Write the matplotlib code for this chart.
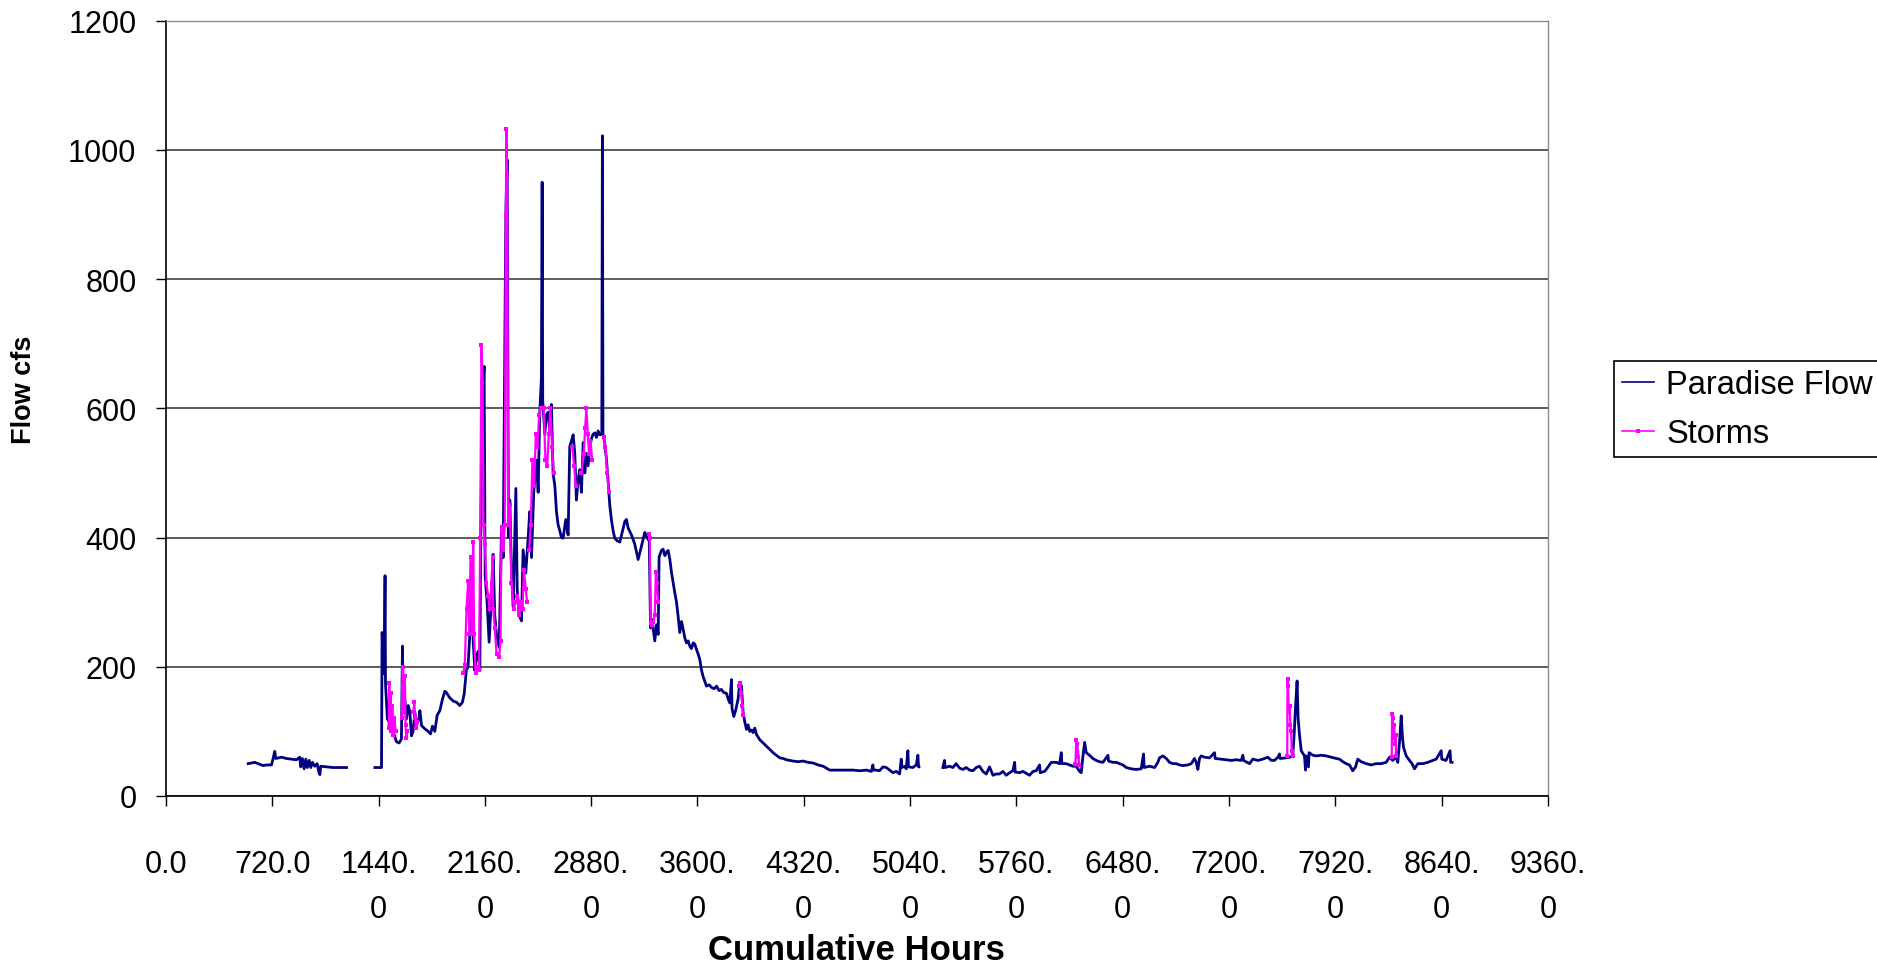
import numpy as np
import matplotlib
matplotlib.use("Agg")
import matplotlib.pyplot as plt
from matplotlib.lines import Line2D

plt.rcParams['font.family'] = ['Liberation Sans', 'DejaVu Sans']

# ---- axis scales -------------------------------------------------------
x_ticks = [0, 720, 1440, 2160, 2880, 3600, 4320, 5040, 5760, 6480, 7200, 7920, 8640, 9360]
x_tick_labels = ["0.0", "720.0", "1440.\n0", "2160.\n0", "2880.\n0", "3600.\n0", "4320.\n0",
                 "5040.\n0", "5760.\n0", "6480.\n0", "7200.\n0", "7920.\n0", "8640.\n0", "9360.\n0"]
y_ticks = [0, 200, 400, 600, 800, 1000, 1200]

# ---- Paradise flow (hour, cfs), split where the record has gaps ---------
paradise_winter = [
    (557, 50), (602, 52), (636, 49), (658, 47), (681, 48), (715, 48), (726, 58), (737, 69),
    (744, 58), (782, 60), (816, 58), (850, 57), (884, 56), (906, 60), (913, 45), (924, 58),
    (936, 42), (947, 57), (958, 44), (970, 55), (981, 44), (992, 52), (1008, 46), (1024, 50),
    (1037, 36), (1043, 33), (1048, 46), (1087, 45), (1132, 44), (1223, 44),
]

paradise_spring = [
    (1415, 44), (1460, 44), (1464, 253), (1471, 230), (1478, 189), (1484, 341), (1487, 175),
    (1493, 150), (1500, 119), (1511, 115), (1527, 105), (1543, 97), (1561, 84), (1579, 82),
    (1595, 88), (1602, 232), (1605, 175), (1618, 150), (1629, 119), (1641, 140), (1652, 130),
    (1663, 93), (1674, 100), (1686, 130), (1697, 110), (1713, 120), (1720, 132), (1731, 109),
    (1753, 104), (1776, 100), (1792, 96), (1805, 108), (1821, 100), (1837, 125), (1855, 132),
    (1873, 150), (1889, 162), (1900, 160), (1922, 152), (1945, 147), (1968, 145), (1990, 140),
    (2008, 145), (2020, 158), (2035, 195), (2046, 200), (2058, 250), (2069, 351), (2081, 240),
    (2092, 194), (2103, 215), (2115, 224), (2126, 194), (2133, 410), (2142, 600), (2155, 665),
    (2162, 339), (2175, 300), (2189, 238), (2205, 310), (2216, 374), (2227, 280), (2239, 250),
    (2257, 230), (2273, 416), (2284, 369), (2295, 689), (2302, 900), (2311, 985), (2320, 400),
    (2329, 458), (2340, 350), (2352, 293), (2370, 476), (2379, 320), (2392, 280), (2408, 271),
    (2419, 381), (2437, 345), (2453, 399), (2464, 440), (2476, 369), (2491, 470), (2510, 520),
    (2521, 470), (2532, 594), (2543, 647), (2548, 950), (2552, 612), (2566, 560), (2577, 590),
    (2589, 594), (2600, 560), (2611, 606), (2622, 499), (2634, 480), (2645, 440), (2656, 420),
    (2668, 410), (2679, 400), (2690, 399), (2708, 428), (2724, 404), (2735, 541), (2747, 550),
    (2758, 559), (2769, 530), (2780, 458), (2792, 490), (2803, 505), (2814, 470), (2826, 547),
    (2837, 500), (2848, 530), (2859, 511), (2871, 540), (2882, 553), (2893, 560), (2905, 562),
    (2916, 555), (2927, 565), (2938, 559), (2952, 560), (2956, 1022), (2960, 560), (2972, 547),
    (2984, 520), (2995, 487), (3006, 450), (3017, 428), (3029, 410), (3040, 399), (3056, 395),
    (3074, 393), (3092, 410), (3108, 425), (3119, 428), (3130, 415), (3153, 404), (3175, 390),
    (3198, 366), (3221, 387), (3243, 408), (3266, 397), (3273, 400), (3282, 260), (3293, 273),
    (3300, 258), (3311, 240), (3322, 265), (3334, 250), (3340, 370), (3356, 380), (3367, 382),
    (3379, 372), (3390, 377), (3401, 380), (3413, 366), (3424, 346), (3435, 330), (3446, 315),
    (3458, 300), (3469, 278), (3480, 253), (3492, 270), (3503, 258), (3514, 245), (3525, 237),
    (3537, 240), (3548, 232), (3559, 228), (3571, 237), (3582, 235), (3593, 227), (3604, 220),
    (3616, 211), (3627, 195), (3638, 185), (3649, 178), (3661, 170), (3679, 172), (3695, 168),
    (3713, 166), (3729, 170), (3747, 163), (3762, 165), (3778, 160), (3796, 159), (3808, 150),
    (3819, 144), (3830, 180), (3834, 135), (3846, 123), (3859, 133), (3875, 150), (3886, 175),
    (3898, 170), (3909, 130), (3920, 115), (3932, 103), (3943, 110), (3954, 100), (3966, 102),
    (3977, 98), (3988, 105), (4000, 95), (4022, 87), (4045, 82), (4067, 77), (4090, 72),
    (4112, 67), (4135, 63), (4157, 59), (4180, 58), (4202, 56), (4225, 55), (4248, 54),
    (4282, 53), (4315, 54), (4349, 52), (4383, 51), (4417, 48), (4451, 46), (4473, 43),
    (4496, 40), (4654, 40), (4699, 39), (4744, 40), (4778, 38), (4788, 48), (4792, 40),
    (4811, 40), (4833, 39), (4856, 45), (4879, 44), (4901, 40), (4924, 36), (4946, 38),
    (4969, 34), (4980, 57), (4984, 44), (5003, 46), (5014, 42), (5025, 70), (5029, 45),
    (5059, 44), (5082, 48), (5093, 63), (5097, 45), (5100, 45),
]

paradise_summer = [
    (5262, 44), (5273, 55), (5277, 44), (5307, 46), (5330, 44), (5352, 50), (5375, 43),
    (5398, 41), (5420, 44), (5443, 40), (5465, 39), (5488, 44), (5510, 46), (5533, 38),
    (5556, 34), (5578, 45), (5601, 32), (5623, 34), (5646, 34), (5669, 38), (5691, 32),
    (5714, 36), (5736, 39), (5748, 52), (5752, 37), (5781, 36), (5804, 38), (5827, 35),
    (5849, 32), (5872, 38), (5894, 39), (5917, 48), (5921, 36), (5951, 38), (5962, 41),
    (5996, 52), (6030, 52), (6052, 50), (6064, 67), (6068, 50), (6097, 50), (6120, 48),
    (6142, 46), (6165, 46), (6188, 38), (6199, 36), (6210, 60), (6222, 83), (6233, 67),
    (6255, 63), (6278, 58), (6300, 55), (6323, 53), (6346, 52), (6380, 63), (6384, 54),
    (6413, 52), (6436, 52), (6459, 50), (6481, 48), (6504, 44), (6538, 42), (6571, 41),
    (6605, 42), (6621, 65), (6625, 44), (6662, 46), (6696, 44), (6718, 52), (6729, 59),
    (6752, 62), (6775, 58), (6797, 52), (6820, 50), (6842, 50), (6865, 48), (6887, 47),
    (6921, 48), (6944, 50), (6966, 58), (6978, 52), (6989, 41), (7000, 58), (7012, 62),
    (7034, 60), (7068, 59), (7102, 67), (7106, 58), (7147, 57), (7181, 56), (7215, 55),
    (7249, 56), (7282, 55), (7294, 63), (7298, 55), (7339, 50), (7361, 57), (7395, 55),
    (7429, 57), (7463, 60), (7486, 55), (7508, 55), (7531, 60), (7542, 65), (7546, 58),
    (7587, 59), (7610, 60), (7632, 62), (7643, 103), (7650, 137), (7661, 178), (7668, 120),
    (7677, 95), (7689, 70), (7700, 66), (7711, 62), (7718, 40), (7722, 62), (7738, 45),
    (7742, 67), (7768, 63), (7790, 62), (7824, 63), (7858, 62), (7892, 60), (7926, 58),
    (7948, 57), (7971, 53), (7993, 50), (8016, 48), (8038, 39), (8057, 45), (8072, 57),
    (8095, 53), (8129, 50), (8163, 48), (8196, 50), (8230, 50), (8264, 52), (8287, 60),
    (8309, 55), (8332, 60), (8343, 52), (8355, 85), (8366, 124), (8375, 90), (8382, 75),
    (8400, 62), (8422, 55), (8440, 50), (8456, 42), (8479, 50), (8513, 50), (8546, 52),
    (8580, 55), (8603, 57), (8637, 70), (8641, 57), (8670, 55), (8697, 70), (8701, 52),
    (8711, 52),
]

# ---- storm events (hour, cfs) -------------------------------------------
storm_march_a = [(1508, 105), (1512, 175), (1517, 130), (1522, 160), (1527, 100), (1533, 140),
                 (1540, 95), (1548, 120), (1556, 100)]
storm_march_b = [(1598, 120), (1603, 200), (1608, 170), (1613, 130), (1618, 185), (1623, 110),
                 (1628, 90), (1633, 100)]
storm_march_c = [(1676, 130), (1682, 146), (1688, 120), (1694, 105), (1700, 115)]
storm_april = [(2013, 190), (2024, 203), (2036, 290), (2047, 333), (2054, 250), (2063, 370),
               (2074, 250), (2081, 393), (2087, 250), (2097, 190), (2110, 200), (2121, 195),
               (2128, 400), (2137, 698), (2144, 640), (2151, 420), (2160, 390), (2171, 330),
               (2182, 310), (2194, 290), (2205, 330), (2212, 370), (2216, 290), (2227, 260),
               (2239, 220), (2257, 215), (2266, 240), (2273, 416), (2284, 380), (2295, 420),
               (2302, 900), (2306, 1033), (2311, 960), (2318, 420), (2329, 450), (2340, 330),
               (2356, 290), (2370, 300), (2381, 310), (2392, 280), (2403, 300), (2415, 290),
               (2424, 350), (2437, 320), (2446, 300)]
storm_may_a = [(2460, 380), (2471, 420), (2482, 520), (2494, 480), (2505, 560), (2516, 540),
               (2528, 590), (2537, 600)]
storm_may_b = [(2559, 600), (2570, 520), (2582, 510), (2593, 560), (2604, 600), (2616, 540),
               (2627, 500)]
storm_may_c = [(2753, 540), (2765, 510), (2776, 480)]
storm_may_d = [(2814, 500), (2830, 530), (2839, 570), (2848, 600), (2857, 560), (2866, 530),
               (2875, 550), (2887, 520)]
storm_may_e = [(2965, 555), (2977, 540), (2988, 500), (2999, 470)]
storm_june = [(3270, 405), (3277, 400), (3282, 268), (3290, 265), (3300, 270), (3311, 280),
              (3318, 346), (3325, 330), (3334, 300)]
storm_july = [(3880, 170), (3886, 175), (3895, 160), (3903, 140), (3910, 125)]
storm_sept = [(6160, 50), (6165, 86), (6172, 80), (6180, 60), (6185, 48)]
storm_nov = [(7594, 62), (7596, 181), (7600, 170), (7605, 130), (7610, 140), (7615, 110),
             (7620, 100), (7625, 70), (7630, 62)]
storm_dec = [(8302, 60), (8304, 127), (8308, 120), (8313, 90), (8318, 110), (8323, 80),
             (8328, 95), (8332, 62)]


def chain(segments):
    """Join segments into one series, with NaN breaks between them."""
    hours, values = [], []
    for seg in segments:
        for h, v in seg:
            hours.append(h)
            values.append(v)
        hours.append(seg[-1][0] + 1)
        values.append(np.nan)
    return np.array(hours, float), np.array(values, float)


flow_h, flow_q = chain([paradise_winter, paradise_spring, paradise_summer])
storm_h, storm_q = chain([storm_march_a, storm_march_b, storm_march_c, storm_april,
                          storm_may_a, storm_may_b, storm_may_c, storm_may_d, storm_may_e,
                          storm_june, storm_july, storm_sept, storm_nov, storm_dec])

NAVY = '#000080'
MAGENTA = '#FF00FF'
TICK_FS = 22
LEGEND_FS = 23.5
XLABEL_FS = 25
YLABEL_FS = 19.5

fig = plt.figure(figsize=(18.77, 9.70), dpi=100)
fig.patch.set_facecolor('white')
ax = fig.add_axes([0.0884, 0.1784, 0.7363, 0.7992])

ax.plot(flow_h, flow_q, color=NAVY, lw=2.0, zorder=3)
ax.plot(storm_h, storm_q, color=MAGENTA, lw=1.6, marker='s', ms=2.6, mew=0, zorder=4)

ax.set_xlim(0, 9360)
ax.set_ylim(0, 1200)
ax.set_xticks(x_ticks)
ax.set_xticklabels(x_tick_labels)
ax.set_yticks(y_ticks)
for lbl in ax.get_xticklabels():
    lbl.set_linespacing(1.65)
    lbl.set_multialignment('center')

ax.tick_params(axis='both', direction='out', length=7.2, width=1.0, color='black',
               labelsize=TICK_FS, labelcolor='black')
ax.tick_params(axis='x', pad=31)
ax.tick_params(axis='y', pad=14)

ax.set_axisbelow(True)
ax.yaxis.grid(True, color='#303030', lw=1.1)
ax.xaxis.grid(False)

for side in ('left', 'bottom'):
    ax.spines[side].set_color('black')
    ax.spines[side].set_linewidth(1.2)
for side in ('top', 'right'):
    ax.spines[side].set_color('#8c8c8c')
    ax.spines[side].set_linewidth(1.0)

fig.text(24 / 1877, 1 - 390 / 970, 'Flow cfs', rotation=90, ha='center', va='center',
         fontsize=YLABEL_FS, fontweight='bold')
fig.text(856 / 1877, 1 - 951 / 970, 'Cumulative Hours', ha='center', va='center',
         fontsize=XLABEL_FS, fontweight='bold')

handles = [Line2D([], [], color=NAVY, lw=1.2),
           Line2D([], [], color=MAGENTA, lw=1.2, marker='s', ms=2.5, mew=0)]
leg = fig.legend(handles, ['Paradise Flow', 'Storms'], loc='upper left',
                 bbox_to_anchor=(1614 / 1877, 1 - 362 / 970), borderaxespad=0,
                 frameon=True, fancybox=False, framealpha=1, edgecolor='black',
                 fontsize=LEGEND_FS, borderpad=0.25, handlelength=0.98, handletextpad=0.37,
                 labelspacing=0.55, numpoints=1)
leg.get_frame().set_linewidth(1.2)

fig.savefig('out.png', dpi=100, facecolor='white')
